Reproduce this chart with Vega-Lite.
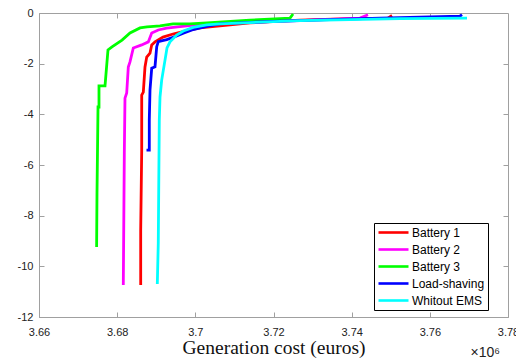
{
  "$schema": "https://vega.github.io/schema/vega-lite/v6.json",
  "width": 469,
  "height": 304,
  "autosize": {"type": "none"},
  "padding": {"left": 39, "top": 13, "right": 8, "bottom": 44},
  "background": "#ffffff",
  "config": {
    "view": {"stroke": "#a0a0a0", "strokeWidth": 1},
    "axis": {"domainColor": "#a0a0a0", "tickColor": "#a0a0a0", "grid": false, "labelFont": "Liberation Sans", "labelFontSize": 11, "labelColor": "#222222"}
  },
  "datasets": {
    "curves": [
      {"s": "Battery 1", "i": 0, "x": 3.68602, "y": -10.74},
      {"s": "Battery 1", "i": 1, "x": 3.68602, "y": -8.57},
      {"s": "Battery 1", "i": 2, "x": 3.68628, "y": -5.41},
      {"s": "Battery 1", "i": 3, "x": 3.68628, "y": -3.24},
      {"s": "Battery 1", "i": 4, "x": 3.68669, "y": -3.12},
      {"s": "Battery 1", "i": 5, "x": 3.68712, "y": -2.13},
      {"s": "Battery 1", "i": 6, "x": 3.68756, "y": -1.74},
      {"s": "Battery 1", "i": 7, "x": 3.6884, "y": -1.58},
      {"s": "Battery 1", "i": 8, "x": 3.68884, "y": -1.26},
      {"s": "Battery 1", "i": 9, "x": 3.68968, "y": -1.14},
      {"s": "Battery 1", "i": 10, "x": 3.69173, "y": -0.95},
      {"s": "Battery 1", "i": 11, "x": 3.69429, "y": -0.83},
      {"s": "Battery 1", "i": 12, "x": 3.69659, "y": -0.74},
      {"s": "Battery 1", "i": 13, "x": 3.70119, "y": -0.59},
      {"s": "Battery 1", "i": 14, "x": 3.71399, "y": -0.39},
      {"s": "Battery 1", "i": 15, "x": 3.72678, "y": -0.28},
      {"s": "Battery 1", "i": 16, "x": 3.73957, "y": -0.22},
      {"s": "Battery 1", "i": 17, "x": 3.74929, "y": -0.2},
      {"s": "Battery 1", "i": 18, "x": 3.75032, "y": -0.1},

      {"s": "Battery 2", "i": 0, "x": 3.68157, "y": -10.74},
      {"s": "Battery 2", "i": 1, "x": 3.68183, "y": -5.53},
      {"s": "Battery 2", "i": 2, "x": 3.682, "y": -3.36},
      {"s": "Battery 2", "i": 3, "x": 3.68244, "y": -3.16},
      {"s": "Battery 2", "i": 4, "x": 3.68285, "y": -2.13},
      {"s": "Battery 2", "i": 5, "x": 3.68328, "y": -1.93},
      {"s": "Battery 2", "i": 6, "x": 3.68413, "y": -1.38},
      {"s": "Battery 2", "i": 7, "x": 3.68628, "y": -1.26},
      {"s": "Battery 2", "i": 8, "x": 3.68797, "y": -1.14},
      {"s": "Battery 2", "i": 9, "x": 3.68884, "y": -0.79},
      {"s": "Battery 2", "i": 10, "x": 3.69052, "y": -0.67},
      {"s": "Battery 2", "i": 11, "x": 3.69267, "y": -0.6},
      {"s": "Battery 2", "i": 12, "x": 3.69608, "y": -0.54},
      {"s": "Battery 2", "i": 13, "x": 3.70119, "y": -0.45},
      {"s": "Battery 2", "i": 14, "x": 3.71399, "y": -0.36},
      {"s": "Battery 2", "i": 15, "x": 3.72678, "y": -0.3},
      {"s": "Battery 2", "i": 16, "x": 3.74213, "y": -0.2},
      {"s": "Battery 2", "i": 17, "x": 3.74418, "y": -0.07},

      {"s": "Battery 3", "i": 0, "x": 3.67474, "y": -9.24},
      {"s": "Battery 3", "i": 1, "x": 3.67484, "y": -7.1},
      {"s": "Battery 3", "i": 2, "x": 3.6751, "y": -3.71},
      {"s": "Battery 3", "i": 3, "x": 3.67535, "y": -3.71},
      {"s": "Battery 3", "i": 4, "x": 3.67535, "y": -2.88},
      {"s": "Battery 3", "i": 5, "x": 3.67689, "y": -2.88},
      {"s": "Battery 3", "i": 6, "x": 3.67765, "y": -1.46},
      {"s": "Battery 3", "i": 7, "x": 3.67868, "y": -1.34},
      {"s": "Battery 3", "i": 8, "x": 3.68124, "y": -1.07},
      {"s": "Battery 3", "i": 9, "x": 3.68329, "y": -0.79},
      {"s": "Battery 3", "i": 10, "x": 3.68584, "y": -0.59},
      {"s": "Battery 3", "i": 11, "x": 3.68763, "y": -0.55},
      {"s": "Battery 3", "i": 12, "x": 3.69096, "y": -0.51},
      {"s": "Battery 3", "i": 13, "x": 3.69429, "y": -0.43},
      {"s": "Battery 3", "i": 14, "x": 3.69863, "y": -0.43},
      {"s": "Battery 3", "i": 15, "x": 3.70298, "y": -0.39},
      {"s": "Battery 3", "i": 16, "x": 3.71399, "y": -0.28},
      {"s": "Battery 3", "i": 17, "x": 3.72422, "y": -0.2},
      {"s": "Battery 3", "i": 18, "x": 3.725, "y": -0.04},

      {"s": "Load-shaving", "i": 0, "x": 3.68751, "y": -5.41},
      {"s": "Load-shaving", "i": 1, "x": 3.68822, "y": -5.41},
      {"s": "Load-shaving", "i": 2, "x": 3.68822, "y": -4.22},
      {"s": "Load-shaving", "i": 3, "x": 3.6884, "y": -3.04},
      {"s": "Load-shaving", "i": 4, "x": 3.68884, "y": -2.18},
      {"s": "Load-shaving", "i": 5, "x": 3.68968, "y": -2.12},
      {"s": "Load-shaving", "i": 6, "x": 3.69012, "y": -1.33},
      {"s": "Load-shaving", "i": 7, "x": 3.69052, "y": -1.13},
      {"s": "Load-shaving", "i": 8, "x": 3.69267, "y": -1.05},
      {"s": "Load-shaving", "i": 9, "x": 3.69523, "y": -0.91},
      {"s": "Load-shaving", "i": 10, "x": 3.69692, "y": -0.8},
      {"s": "Load-shaving", "i": 11, "x": 3.69915, "y": -0.67},
      {"s": "Load-shaving", "i": 12, "x": 3.70291, "y": -0.53},
      {"s": "Load-shaving", "i": 13, "x": 3.70631, "y": -0.43},
      {"s": "Load-shaving", "i": 14, "x": 3.71143, "y": -0.39},
      {"s": "Load-shaving", "i": 15, "x": 3.72166, "y": -0.32},
      {"s": "Load-shaving", "i": 16, "x": 3.73446, "y": -0.26},
      {"s": "Load-shaving", "i": 17, "x": 3.74725, "y": -0.2},
      {"s": "Load-shaving", "i": 18, "x": 3.7626, "y": -0.14},
      {"s": "Load-shaving", "i": 19, "x": 3.76772, "y": -0.12},
      {"s": "Load-shaving", "i": 20, "x": 3.76823, "y": -0.06},

      {"s": "Whitout EMS", "i": 0, "x": 3.69027, "y": -10.7},
      {"s": "Whitout EMS", "i": 1, "x": 3.69052, "y": -9.08},
      {"s": "Whitout EMS", "i": 2, "x": 3.6907, "y": -5.69},
      {"s": "Whitout EMS", "i": 3, "x": 3.69078, "y": -4.22},
      {"s": "Whitout EMS", "i": 4, "x": 3.69096, "y": -3.32},
      {"s": "Whitout EMS", "i": 5, "x": 3.69139, "y": -2.65},
      {"s": "Whitout EMS", "i": 6, "x": 3.69224, "y": -1.86},
      {"s": "Whitout EMS", "i": 7, "x": 3.69275, "y": -1.38},
      {"s": "Whitout EMS", "i": 8, "x": 3.69352, "y": -1.14},
      {"s": "Whitout EMS", "i": 9, "x": 3.69523, "y": -0.87},
      {"s": "Whitout EMS", "i": 10, "x": 3.69692, "y": -0.71},
      {"s": "Whitout EMS", "i": 11, "x": 3.69948, "y": -0.57},
      {"s": "Whitout EMS", "i": 12, "x": 3.70291, "y": -0.47},
      {"s": "Whitout EMS", "i": 13, "x": 3.70631, "y": -0.43},
      {"s": "Whitout EMS", "i": 14, "x": 3.71399, "y": -0.38},
      {"s": "Whitout EMS", "i": 15, "x": 3.72678, "y": -0.3},
      {"s": "Whitout EMS", "i": 16, "x": 3.73957, "y": -0.26},
      {"s": "Whitout EMS", "i": 17, "x": 3.75237, "y": -0.22},
      {"s": "Whitout EMS", "i": 18, "x": 3.76951, "y": -0.2}
    ],
    "note": [{"x": 3.78, "y": -12, "t": "×10⁶"}]
  },
  "layer": [
    {
      "data": {"name": "curves"},
      "mark": {"type": "line", "strokeWidth": 2.8, "clip": true},
      "encoding": {
        "x": {"field": "x", "type": "quantitative", "scale": {"domain": [3.66, 3.78], "nice": false, "zero": false},
          "axis": {"orient": "bottom", "values": [3.66, 3.68, 3.7, 3.72, 3.74, 3.76, 3.78], "labelExpr": "datum.value + ''", "labelFlush": false, "labelOverlap": false, "labelBound": false, "tickSize": -5, "labelPadding": 14, "title": "Generation cost (euros)", "titleFont": "Liberation Serif", "titleFontSize": 19.5, "titleFontWeight": "normal", "titleColor": "#111111", "titlePadding": 1}},
        "y": {"field": "y", "type": "quantitative", "scale": {"domain": [-12, 0], "nice": false, "zero": false},
          "axis": {"orient": "left", "values": [-12, -10, -8, -6, -4, -2, 0], "labelExpr": "datum.value + ''", "labelFlush": false, "labelOverlap": false, "tickSize": -5, "labelPadding": 11, "title": null}},
        "color": {"field": "s", "type": "nominal",
          "scale": {"domain": ["Battery 1", "Battery 2", "Battery 3", "Load-shaving", "Whitout EMS"], "range": ["#ff0000", "#ff00ff", "#00ff00", "#0000ff", "#00ffff"]},
          "legend": {"orient": "none", "legendX": 335, "legendY": 210, "title": null, "symbolType": "M-3,0H3", "symbolSize": 100, "symbolOffset": 10, "symbolStrokeWidth": 2.6, "labelFont": "Liberation Sans", "labelFontSize": 12, "labelColor": "#000000", "strokeColor": "#000000", "fillColor": "#ffffff", "padding": 3, "rowPadding": 4, "labelOffset": 12}},
        "order": {"field": "i", "type": "quantitative"}
      }
    },
    {
      "data": {"name": "note"},
      "mark": {"type": "text", "align": "right", "baseline": "middle", "dx": -8, "dy": 36, "font": "Liberation Sans", "fontSize": 14, "color": "#222222"},
      "encoding": {
        "x": {"field": "x", "type": "quantitative", "axis": {"orient": "top", "values": [3.68, 3.7, 3.72, 3.74, 3.76], "labels": false, "tickSize": -5, "domain": false, "title": null}},
        "y": {"field": "y", "type": "quantitative", "axis": {"orient": "right", "values": [-10, -8, -6, -4, -2], "labels": false, "tickSize": -5, "domain": false, "title": null}},
        "text": {"field": "t"}
      }
    }
  ],
  "resolve": {"axis": {"x": "independent", "y": "independent"}}
}
